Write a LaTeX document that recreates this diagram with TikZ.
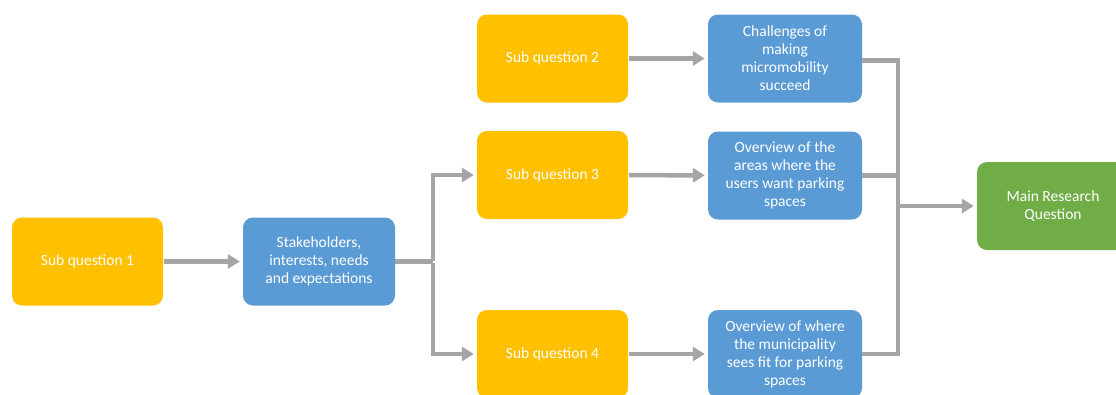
\documentclass[tikz,border=0pt]{standalone}
\usepackage{fontspec}
\setmainfont{Carlito}
\usetikzlibrary{arrows.meta}
\definecolor{sqorange}{HTML}{FFC000}
\definecolor{resblue}{HTML}{5B9BD5}
\definecolor{maingreen}{HTML}{70AD47}
\definecolor{arrgray}{HTML}{A5A5A5}
\tikzset{
  box/.style={rounded corners=10pt, text=white, align=center, inner sep=2pt,
    font=\fontsize{15.5}{18}\selectfont},
  subq/.style={box, fill=sqorange, minimum width=151pt, minimum height=88pt},
  resb/.style={box, fill=resblue, minimum width=154pt, minimum height=88pt},
  mainb/.style={box, fill=maingreen, minimum width=152pt, minimum height=88pt},
  conn/.style={draw=arrgray, line width=4.5pt, line join=miter},
  arr/.style={conn, -{Triangle[length=12pt,width=14pt]}, shorten >=3pt, shorten <=1pt},
}
\begin{document}
\begin{tikzpicture}[x=1pt,y=-1pt]
\clip (0,0) rectangle (1116,394);
\fill[white] (0,0) rectangle (1116,394);
\node[subq] (sq1) at (87.5,261.5) {Sub question 1};
\node[resb, minimum width=152pt] (st) at (319,261.5) {Stakeholders,\\interests, needs\\and expectations};
\node[subq] (sq2) at (552.5,58.5) {Sub question 2};
\node[resb] (ch) at (785,58.5) {Challenges of\\making\\micromobility\\succeed};
\node[subq] (sq3) at (552.5,175) {Sub question 3};
\node[resb] (ov3) at (785,175.5) {Overview of the\\areas where the\\users want parking\\spaces};
\node[subq] (sq4) at (552.5,354) {Sub question 4};
\node[resb] (ov4) at (785,354) {Overview of where\\the municipality\\sees fit for parking\\spaces};
\node[mainb] (mq) at (1053,206) {Main Research\\Question};
\coordinate (br) at (433,261.5);
\coordinate (mg) at (898,206);
% left part
\draw[arr] (sq1) -- (st);
\draw[conn] (st.east) -- (br);
\draw[arr] (br) |- (sq3.west);
\draw[arr] (br) |- (sq4.west);
% middle arrows
\draw[arr] (sq2) -- (ch);
\draw[arr] (sq3) -- (ov3);
\draw[arr] (sq4) -- (ov4);
% merge
\draw[conn] ([yshift=-2pt]ch.east) -| (mg);
\draw[conn] (ov4.east) -| (mg);
\draw[conn] (ov3.east) -- (ov3.east -| mg);
\draw[arr, shorten <=0pt] (mg) -- (mq);
\end{tikzpicture}
\end{document}
